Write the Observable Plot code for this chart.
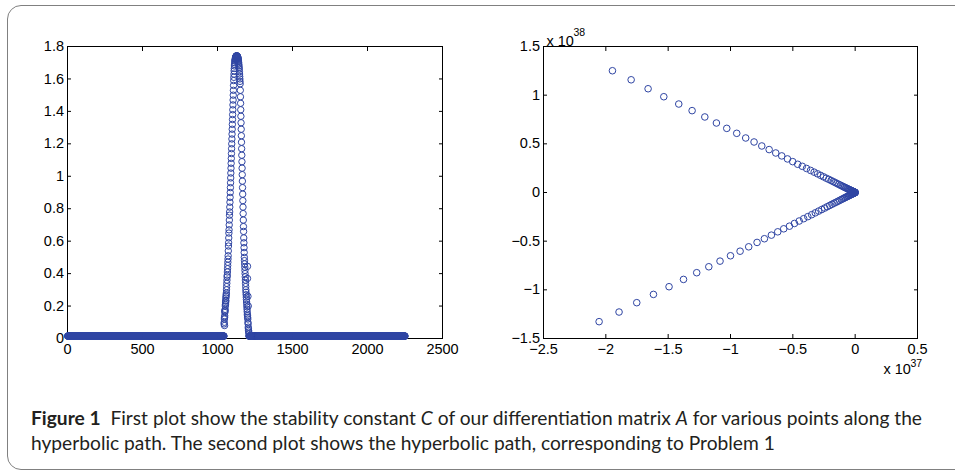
<!DOCTYPE html>
<html>
<head>
<meta charset="utf-8">
<script src="https://cdn.jsdelivr.net/npm/d3@7"></script>
<script src="https://cdn.jsdelivr.net/npm/@observablehq/plot@0.6"></script>
<style>
  html, body { margin: 0; padding: 0; background: #fff; }
  body { width: 955px; height: 471px; overflow: hidden; position: relative; }
  #frame { position: absolute; left: 7px; top: 5px; width: 1000px; height: 465px; box-sizing: border-box;
           border: 1.6px solid #808080; border-radius: 14px; }
  #left { position: absolute; left: 0; top: 0; }
  #right { position: absolute; left: 480px; top: 0; }
  #caption { position: absolute; left: 31px; top: 406px; font-family: Lato, "Open Sans", sans-serif; font-size: 18.5px;
             line-height: 25px; color: #231f20; white-space: nowrap; transform-origin: 0 0; }
  #caption b { font-weight: 700; }
</style>
</head>
<body>
<div id="frame"></div>
<div id="left"></div>
<div id="right"></div>
<div id="caption"><span id="line1"><b>Figure 1</b>&nbsp; First plot show the stability constant <i>C</i> of our differentiation matrix <i>A</i> for various points along the</span><br><span>hyperbolic path. The second plot shows the hyperbolic path, corresponding to Problem 1</span></div>
<script>
// ---------- Left panel: stability constant C vs point index ----------
const leftXTicks = [0, 500, 1000, 1500, 2000, 2500];
const leftYTicks = [0, 0.2, 0.4, 0.6, 0.8, 1, 1.2, 1.4, 1.6, 1.8];
const baseLevel = 0.015;                 // flat level of C away from the peak
const baseSpans = [[1, 1043], [1210, 2250]];
const peakStart = 1044;                  // first index of the peak
const peakY = [
  0.09,0.10,0.12,0.13,0.14,0.16,0.17,0.18,0.20,0.21,0.22,0.23,0.25,0.26,0.27,0.28,
  0.30,0.32,0.34,0.36,0.38,0.39,0.41,0.43,0.45,0.47,0.49,0.51,
  0.54,0.57,0.59,0.62,0.65,0.67,0.70,0.73,0.76,0.78,0.81,0.84,0.87,0.90,0.93,0.96,0.99,1.02,1.05,1.08,
  1.11,1.14,1.17,1.20,1.23,1.26,1.29,1.32,1.35,1.38,1.41,1.44,1.47,1.50,1.53,1.56,1.59,1.61,1.63,1.65,
  1.665,1.68,1.69,1.70,1.71,1.715,1.72,1.725,1.73,1.733,1.736,1.738,1.74,1.741,1.742,1.742,1.742,1.742,1.742,1.741,
  1.74,1.738,1.736,1.733,1.73,1.726,1.72,1.715,1.71,1.70,1.69,1.68,1.67,1.66,1.645,1.63,1.615,1.60,1.585,
  1.57,1.53,1.49,1.45,1.41,1.37,1.33,1.29,1.25,1.21,1.17,1.13,1.09,1.05,1.01,0.97,0.93,0.89,0.85,0.81,
  0.77,0.73,0.69,0.66,0.62,0.59,0.56,0.53,0.50,0.48,0.46,0.44,0.42,0.40,0.38,0.36,0.34,0.32,0.30,0.285,
  0.27,0.255,0.24,0.225,0.21,0.195,0.18,0.165,0.15,0.14,0.13,0.12,0.10,0.09,0.07,0.06,0.05,0.04,0.03
];
const outX = [1049, 1055, 1047, 1200, 1200, 1203, 1205];
const outY = [0.17, 0.235, 0.08, 0.445, 0.37, 0.26, 0.20];

// ---------- Right panel: hyperbolic path (x in 1e37, y in 1e38) ----------
const rightXTicks = [-2.5, -2, -1.5, -1, -0.5, 0, 0.5];
const rightYTicks = [-1.5, -1, -0.5, 0, 0.5, 1, 1.5];
const upperX = [-1.947,-1.797,-1.661,-1.535,-1.415,-1.308,-1.206,-1.113,-1.030,-0.950,-0.878,-0.811,-0.749,-0.690,-0.637,-0.589,-0.543,-0.501,-0.461,
  -0.424,-0.390,-0.358,-0.329,-0.302,-0.277,-0.254,-0.232,-0.212,-0.193,-0.176,-0.160,-0.145,-0.131,-0.118,-0.106,-0.095,-0.085,-0.076,-0.067,
  -0.059,-0.052,-0.045,-0.039,-0.033,-0.028,-0.023,-0.019,-0.015,-0.012,-0.009,-0.006,-0.004,-0.002,-0.001,0];
const upperY = [1.251,1.158,1.066,0.984,0.909,0.841,0.776,0.714,0.659,0.608,0.560,0.519,0.478,0.441,0.406,0.376,0.345,0.317,0.290,
  0.269,0.247,0.227,0.209,0.192,0.176,0.161,0.147,0.135,0.123,0.112,0.102,0.092,0.083,0.075,0.067,0.060,0.054,0.048,0.043,
  0.037,0.033,0.029,0.025,0.021,0.018,0.015,0.012,0.010,0.008,0.006,0.004,0.003,0.001,0.001,0];
const lowerX = [-2.054,-1.894,-1.752,-1.618,-1.493,-1.377,-1.271,-1.174,-1.084,-1.000,-0.923,-0.854,-0.787,-0.728,-0.672,-0.621,-0.573,-0.527,-0.487,
  -0.449,-0.413,-0.380,-0.349,-0.320,-0.293,-0.268,-0.245,-0.224,-0.204,-0.186,-0.169,-0.153,-0.138,-0.124,-0.111,-0.099,-0.088,-0.078,-0.069,
  -0.061,-0.053,-0.046,-0.040,-0.034,-0.029,-0.024,-0.020,-0.016,-0.012,-0.009,-0.006,-0.004,-0.002,-0.001];
const lowerY = [-1.327,-1.228,-1.132,-1.047,-0.968,-0.893,-0.824,-0.763,-0.705,-0.650,-0.603,-0.558,-0.513,-0.475,-0.438,-0.404,-0.373,-0.346,-0.318,
  -0.293,-0.269,-0.248,-0.228,-0.209,-0.191,-0.175,-0.160,-0.146,-0.133,-0.121,-0.110,-0.100,-0.090,-0.081,-0.072,-0.065,-0.057,-0.051,-0.045,
  -0.040,-0.035,-0.030,-0.026,-0.022,-0.019,-0.016,-0.013,-0.010,-0.008,-0.006,-0.004,-0.003,-0.001,-0.001];

// ---------- build tables ----------
const leftData = [];
for (const [a, b] of baseSpans) for (let i = a; i <= b; i++) leftData.push({x: i, y: baseLevel});
peakY.forEach((v, i) => leftData.push({x: peakStart + i, y: v}));
outX.forEach((v, i) => leftData.push({x: v, y: outY[i]}));
const rightData = [];
upperX.forEach((v, i) => rightData.push({x: v, y: upperY[i]}));
lowerX.forEach((v, i) => rightData.push({x: v, y: lowerY[i]}));

const blue = "#2f45a3";
const fmt = d3.format("~g");
const FS = 14.5;
const style = {fontFamily: "'Liberation Sans', Arial, Helvetica, sans-serif", fontSize: FS + "px", color: "black", background: "transparent", overflow: "visible"};

function boxAxes(xTicks, yTicks) {
  const t = 4;
  return [
    Plot.frame({stroke: "black", strokeWidth: 1}),
    Plot.axisX(xTicks, {anchor: "bottom", tickSize: 0, tickPadding: 5, tickFormat: fmt, label: null, fontSize: FS}),
    Plot.axisY(yTicks, {anchor: "left", tickSize: 0, tickPadding: 3.5, tickFormat: fmt, label: null, fontSize: FS}),
    Plot.axisX(xTicks, {anchor: "bottom", tickSize: t, dy: -t, fill: "none", label: null}),
    Plot.axisX(xTicks, {anchor: "top", tickSize: t, dy: t, fill: "none", label: null}),
    Plot.axisY(yTicks, {anchor: "left", tickSize: t, dx: t, fill: "none", label: null}),
    Plot.axisY(yTicks, {anchor: "right", tickSize: t, dx: -t, fill: "none", label: null})
  ];
}

const left = Plot.plot({
  width: 480, height: 380,
  marginLeft: 67, marginRight: 38, marginTop: 46, marginBottom: 42,
  style,
  x: {domain: [0, 2500]},
  y: {domain: [0, 1.8]},
  marks: [
    ...boxAxes(leftXTicks, leftYTicks),
    Plot.dot(leftData, {x: "x", y: "y", r: 3.2, stroke: blue, strokeWidth: 1, fill: "none"})
  ]
});
document.getElementById("left").append(left);

const right = Plot.plot({
  width: 475, height: 380,
  marginLeft: 63, marginRight: 38, marginTop: 46, marginBottom: 42,
  style,
  x: {domain: [-2.5, 0.5]},
  y: {domain: [-1.5, 1.5]},
  marks: [
    ...boxAxes(rightXTicks, rightYTicks),
    Plot.dot(rightData, {x: "x", y: "y", r: 3.3, stroke: blue, strokeWidth: 1, fill: "none"}),
    Plot.text(["x 10"], {text: d => d, frameAnchor: "top-left", textAnchor: "start", dx: 3, dy: -11, fontSize: FS}),
    Plot.text(["38"], {text: d => d, frameAnchor: "top-left", textAnchor: "start", dx: 30, dy: -18, fontSize: 10.5}),
    Plot.text(["x 10"], {text: d => d, frameAnchor: "bottom-right", textAnchor: "start", dx: -34, dy: 35, fontSize: FS}),
    Plot.text(["37"], {text: d => d, frameAnchor: "bottom-right", textAnchor: "start", dx: -7, dy: 28, fontSize: 10.5})
  ]
});
document.getElementById("right").append(right);

// fit caption line 1 to the reference width
const cap = document.getElementById("caption");
const w = document.getElementById("line1").getBoundingClientRect().width;
cap.style.transform = `scaleX(${891 / w})`;
</script>
</body>
</html>
